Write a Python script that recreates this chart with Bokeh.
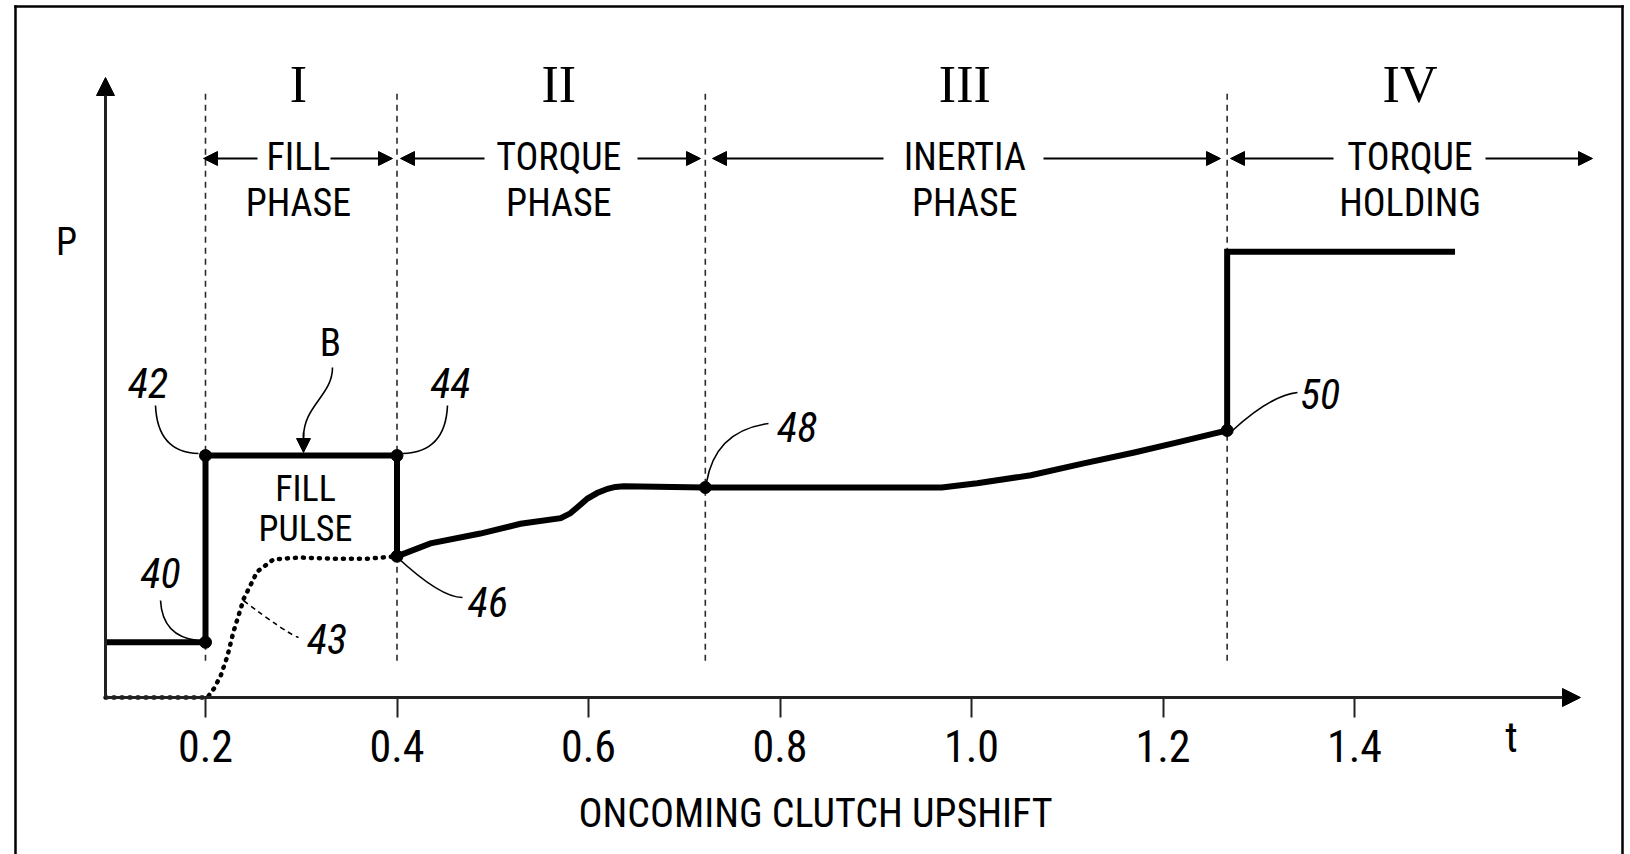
from bokeh.plotting import figure
from bokeh.models import (Range1d, Arrow, NormalHead, ColumnDataSource, LinearAxis,
                          PrintfTickFormatter)
from bokeh.core.properties import value
from bokeh.embed import file_html
from bokeh.resources import INLINE

# ---------------- data ----------------
tick_values = [0.2, 0.4, 0.6, 0.8, 1.0, 1.2, 1.4]
phase_bounds = [0.2, 0.4, 0.722, 1.267]

# commanded pressure (solid trace, B)
pressure_t = [0.0956, 0.2, 0.2, 0.4, 0.4, 0.435, 0.487, 0.529, 0.571, 0.581, 0.590,
              0.599, 0.609, 0.620, 0.628, 0.637, 0.722, 0.832, 0.969, 1.006, 1.062,
              1.116, 1.170, 1.214, 1.267, 1.267, 1.505]
pressure_P = [0.90, 0.90, 3.94, 3.94, 2.30, 2.51, 2.67, 2.83, 2.92, 3.00, 3.12,
              3.24, 3.33, 3.40, 3.43, 3.44, 3.42, 3.42, 3.42, 3.49, 3.62,
              3.81, 3.99, 4.15, 4.35, 7.26, 7.26]

# actual fill pressure (dotted trace, 43)
fill_t = [0.0956, 0.202, 0.209, 0.216, 0.223, 0.229, 0.240, 0.254, 0.271, 0.299, 0.334, 0.369, 0.4]
fill_P = [0.0, 0.0, 0.15, 0.36, 0.68, 1.06, 1.61, 2.05, 2.25, 2.28, 2.26, 2.26, 2.30]

# key points 40, 42, 44, 46, 48, 50
point_t = [0.2, 0.2, 0.4, 0.4, 0.722, 1.267]
point_P = [0.90, 3.94, 3.94, 2.30, 3.42, 4.35]

# reference numerals
ref_text = ["40", "42", "43", "44", "46", "48", "50"]
ref_t = [0.153, 0.140, 0.327, 0.456, 0.495, 0.818, 1.364]
ref_P = [2.02, 5.13, 0.96, 5.13, 1.55, 4.40, 4.95]

roman = ["I", "II", "III", "IV"]
phase_line1 = ["FILL", "TORQUE", "INERTIA", "TORQUE"]
phase_line2 = ["PHASE", "PHASE", "PHASE", "HOLDING"]
phase_center = [0.297, 0.569, 0.993, 1.458]

# ---------------- layout constants (pixel calibration) ----------------
W, H = 1630, 854
X0_PX, T0, PX_PER_T = 205.0, 0.2, 957.5     # t = 0.2 at pixel 205
Y0_PX, PX_PER_P = 697.0, 61.4                # P = 0 at pixel 697


def tx(px):
    return T0 + (px - X0_PX) / PX_PER_T


def py(pyx):
    return (Y0_PX - pyx) / PX_PER_P


FONT = "Roboto Condensed"
NARROW = value(FONT)
SERIF = value("Liberation Serif")

p = figure(width=W, height=H, output_backend="svg", toolbar_location=None,
           x_range=Range1d(tx(0), tx(W)), y_range=Range1d(py(H), py(0)),
           x_axis_location=None, y_axis_location=None, min_border=0)
p.grid.visible = False
p.outline_line_color = None
p.background_fill_color = "white"
p.border_fill_color = "white"

ax = LinearAxis(fixed_location=0)
ax.ticker = tick_values
ax.formatter = PrintfTickFormatter(format="%.1f")
ax.axis_line_color = None
ax.major_tick_in = 0
ax.major_tick_out = 20
ax.major_tick_line_width = 2
ax.major_tick_line_color = "#222222"
ax.minor_tick_line_color = None
ax.major_label_text_font = FONT
ax.major_label_text_font_size = "44px"
ax.major_label_text_color = "black"
ax.major_label_standoff = 12
ax.axis_label = "ONCOMING CLUTCH UPSHIFT"
ax.axis_label_text_font = FONT
ax.axis_label_text_font_size = "40px"
ax.axis_label_text_font_style = "normal"
ax.axis_label_text_color = "black"
ax.axis_label_standoff = 25
p.add_layout(ax, "below")

# outer border (top, left, right; open at the bottom)
p.segment(x0=[tx(15), tx(15), tx(1622)], y0=[py(6), py(6), py(6)],
          x1=[tx(1622), tx(15), tx(1622)], y1=[py(6), py(H + 5), py(H + 5)],
          line_color="black", line_width=2.5, line_cap="square")

# phase boundaries
p.segment(x0=phase_bounds, y0=0.6, x1=phase_bounds, y1=9.84,
          line_color="#2a2a2a", line_width=1.6, line_dash="6 5")

# axes with arrow heads
t_axis = tx(105)
p.add_layout(Arrow(end=NormalHead(size=18, fill_color="black", line_color="black"),
                   x_start=t_axis, y_start=0, x_end=tx(1580), y_end=0,
                   line_color="#222222", line_width=3))
p.add_layout(Arrow(end=NormalHead(size=18, fill_color="black", line_color="black"),
                   x_start=t_axis, y_start=0, x_end=t_axis, y_end=py(77),
                   line_color="#222222", line_width=3))

# traces
p.line(fill_t, fill_P, line_color="black", line_width=4.5, line_dash="1 7", line_cap="round")
p.line(pressure_t, pressure_P, line_color="black", line_width=6, line_join="miter")
p.scatter(point_t, point_P, size=12, marker="circle", fill_color="black", line_color="black")

# leaders (quadratic curves)
leaders = dict(
    x0=[tx(155), tx(447), tx(160), tx(397), tx(706), tx(1232)],
    y0=[py(405), py(405), py(600), py(557), py(482), py(430)],
    cx=[tx(157), tx(445), tx(162), tx(440), tx(715), tx(1270)],
    cy=[py(452), py(452), py(636), py(597), py(430), py(395)],
    x1=[tx(198), tx(402), tx(197), tx(462), tx(768), tx(1297)],
    y1=[py(453), py(453), py(640), py(597), py(423), py(392)],
)
p.quadratic(source=ColumnDataSource(leaders), x0="x0", y0="y0", x1="x1", y1="y1",
            cx="cx", cy="cy", line_color="black", line_width=1.6)
p.quadratic(x0=[tx(243)], y0=[py(600)], cx=[tx(285)], cy=[py(632)], x1=[tx(298)], y1=[py(637)],
            line_color="black", line_width=1.6, line_dash="5 4")
# leader of B with arrow head
p.bezier(x0=[tx(332)], y0=[py(367)], cx0=[tx(332)], cy0=[py(395)], cx1=[tx(303)],
         cy1=[py(405)], x1=[tx(303)], y1=[py(437)], line_color="black", line_width=1.6)
p.add_layout(Arrow(end=NormalHead(size=14, fill_color="black", line_color="black"),
                   x_start=tx(303), y_start=py(432), x_end=tx(303), y_end=py(452),
                   line_color="black", line_width=1.6))

# texts
p.text(x=ref_t, y=ref_P, text=ref_text, text_font=NARROW, text_font_style="italic",
       text_font_size="42px", text_align="center", text_baseline="middle", text_color="black")
p.text(x=[tx(330)], y=[py(342)], text=["B"], text_font=NARROW, text_font_size="39px",
       text_align="center", text_baseline="middle", text_color="black")
p.text(x=[tx(305), tx(305)], y=[py(488), py(528)], text=["FILL", "PULSE"], text_font=NARROW,
       text_font_size="36px", text_align="center", text_baseline="middle", text_color="black")
p.text(x=phase_center, y=[py(84)] * 4, text=roman, text_font=SERIF, text_font_size="52px",
       text_align="center", text_baseline="middle", text_color="black")
p.text(x=phase_center, y=[py(156)] * 4, text=phase_line1, text_font=NARROW,
       text_font_size="38px", text_align="center", text_baseline="middle", text_color="black")
p.text(x=phase_center, y=[py(202)] * 4, text=phase_line2, text_font=NARROW,
       text_font_size="38px", text_align="center", text_baseline="middle", text_color="black")
p.text(x=[tx(66)], y=[py(241)], text=["P"], text_font=NARROW, text_font_size="38px",
       text_align="center", text_baseline="middle", text_color="black")
p.text(x=[tx(1511)], y=[py(737)], text=["t"], text_font=NARROW, text_font_size="42px",
       text_align="center", text_baseline="middle", text_color="black")

# phase arrows
head = dict(size=14, fill_color="black", line_color="black")
arrows = [(257, 203), (330, 392), (484, 400), (637, 700), (883, 712), (1043, 1220),
          (1333, 1230), (1485, 1592)]
for s, e in arrows:
    p.add_layout(Arrow(end=NormalHead(**head), x_start=tx(s), y_start=py(158), x_end=tx(e),
                       y_end=py(158), line_color="black", line_width=2))

open("out.html", "w").write(file_html(p, INLINE))
